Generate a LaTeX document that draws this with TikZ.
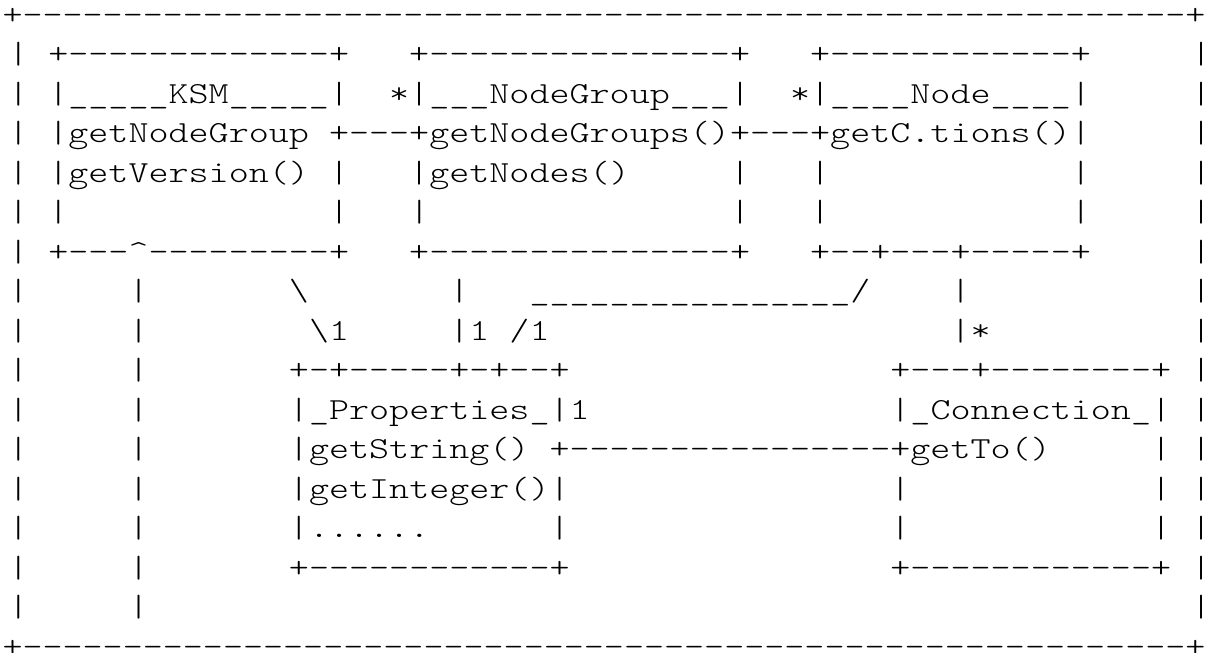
\documentclass[tikz,border=0pt]{standalone}
\usepackage{fontspec}
\setmonofont{lmmonolt10-regular.otf}[FakeStretch=1.248]
\ExplSyntaxOn
\cs_new:Npn \Rpt #1#2 { \prg_replicate:nn {#1} {#2} }
\ExplSyntaxOff
\newcommand\Gp[1]{\Rpt{#1}{\hphantom{x}}}
\tikzset{
  rowtext/.style={anchor=base west, inner sep=0pt, outer sep=0pt,
    font=\ttfamily\fontsize{30.6}{39.5}\selectfont, text=black},
}
\begin{document}
\begin{tikzpicture}[x=1pt,y=1pt]
\fill[white] (0,0) rectangle (1210,-653);
\useasboundingbox (0,0) rectangle (1210,-653);
% outer border
\node[rowtext] (r0) at (2.5,-24.3) {+\Rpt{58}{-}+};
\node[rowtext] (r1) at (8.27,-63.8) {|\Gp{1}+\Rpt{13}{-}+\Gp{3}+\Rpt{15}{-}+\Gp{3}+\Rpt{12}{-}+\Gp{5}|};
\node[rowtext] (r2) at (8.27,-103.3) {|\Gp{1}|\Rpt{5}{\_}KSM\Rpt{5}{\_}|\Gp{2}*|\Rpt{3}{\_}NodeGroup\Rpt{3}{\_}|\Gp{2}*|\Rpt{4}{\_}Node\Rpt{4}{\_}|\Gp{5}|};
\node[rowtext] (r3) at (8.27,-142.8) {|\Gp{1}|getNodeGroup\Gp{1}+---+getNodeGroups()+---+getC.tions()|\Gp{5}|};
\node[rowtext] (r4) at (8.27,-182.3) {|\Gp{1}|getVersion()\Gp{1}|\Gp{3}|getNodes()\Gp{5}|\Gp{3}|\Gp{12}|\Gp{5}|};
\node[rowtext] (r5) at (8.27,-221.8) {|\Gp{1}|\Gp{13}|\Gp{3}|\Gp{15}|\Gp{3}|\Gp{12}|\Gp{5}|};
\node[rowtext] (r6) at (8.27,-261.3) {|\Gp{1}+---\textasciicircum\Rpt{9}{-}+\Gp{3}+\Rpt{15}{-}+\Gp{3}+--+---+-----+\Gp{5}|};
\node[rowtext] (r7) at (8.27,-300.8) {|\Gp{5}|\Gp{7}\textbackslash\Gp{7}|\Gp{3}\Rpt{16}{\_}/\Gp{4}|\Gp{11}|};
\node[rowtext] (r8) at (8.27,-340.3) {|\Gp{5}|\Gp{8}\textbackslash1\Gp{5}|1\Gp{1}/1\Gp{20}|*\Gp{10}|};
\node[rowtext] (r9) at (8.27,-379.8) {|\Gp{5}|\Gp{7}+-+-----+-+--+\Gp{16}+---+--------+\Gp{1}|};
\node[rowtext] (r10) at (8.27,-419.3) {|\Gp{5}|\Gp{7}|\_Properties\_|1\Gp{15}|\_Connection\_|\Gp{1}|};
\node[rowtext] (r11) at (8.27,-458.8) {|\Gp{5}|\Gp{7}|getString()\Gp{1}+\Rpt{16}{-}+getTo()\Gp{5}|\Gp{1}|};
\node[rowtext] (r12) at (8.27,-498.3) {|\Gp{5}|\Gp{7}|getInteger()|\Gp{16}|\Gp{12}|\Gp{1}|};
\node[rowtext] (r13) at (8.27,-537.8) {|\Gp{5}|\Gp{7}|......\Gp{6}|\Gp{16}|\Gp{12}|\Gp{1}|};
\node[rowtext] (r14) at (8.27,-577.3) {|\Gp{5}|\Gp{7}+\Rpt{12}{-}+\Gp{16}+\Rpt{12}{-}+\Gp{1}|};
\node[rowtext] (r15) at (8.27,-616.8) {|\Gp{5}|\Gp{52}|};
\node[rowtext] (r16) at (2.5,-656.3) {+\Rpt{58}{-}+};
\end{tikzpicture}
\end{document}
